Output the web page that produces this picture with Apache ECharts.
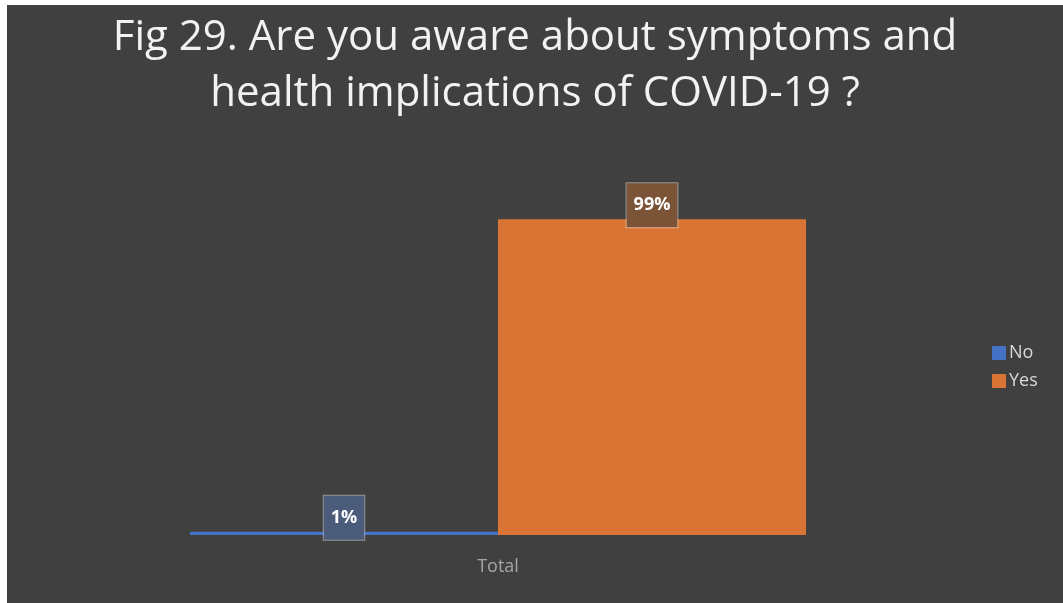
<!DOCTYPE html>
<html>
<head>
<meta charset="utf-8">
<script src="https://cdn.jsdelivr.net/npm/echarts@6/dist/echarts.min.js"></script>
<style>
html,body{margin:0;padding:0;background:#ffffff;width:1063px;height:603px;overflow:hidden;}
#chart{position:absolute;left:7px;top:5px;width:1056px;height:598px;}
</style>
</head>
<body>
<div id="chart"></div>
<script>
var titleText = "Fig 29. Are you aware about symptoms and\nhealth implications of COVID-19 ?";
var categories = ["Total"];
var seriesNames = ["No", "Yes"];
var noValues = [1];
var yesValues = [99];

var colors = ["#4472C4", "#D97434"];
var labelBg = ["#4B5B7A", "#7B5438"];

function makeSeries(name, data, idx) {
  return {
    name: name,
    type: "bar",
    data: data,
    barGap: "0%",
    barCategoryGap: "0%",
    itemStyle: { color: colors[idx] },
    label: {
      show: true,
      position: "top",
      distance: -8,
      formatter: "{c}%",
      color: "#ffffff",
      fontWeight: "bold",
      fontSize: 18,
      fontFamily: "Open Sans",
      lineHeight: 20,
      backgroundColor: labelBg[idx],
      borderColor: "rgba(255,255,255,0.45)",
      borderWidth: 1,
      padding: [12, 7, 12, 7]
    }
  };
}

var chart = echarts.init(document.getElementById("chart"));
chart.setOption({
  backgroundColor: "#404040",
  animation: false,
  title: {
    text: titleText,
    left: "center",
    top: 0,
    textStyle: {
      color: "#f2f2f2",
      fontSize: 42,
      fontWeight: "normal",
      fontFamily: "Open Sans",
      lineHeight: 56
    }
  },
  legend: {
    orient: "vertical",
    left: 980,
    top: 334,
    itemWidth: 14,
    itemHeight: 14,
    itemGap: 10,
    icon: "rect",
    data: seriesNames,
    textStyle: { color: "#d9d9d9", fontSize: 18, fontFamily: "Open Sans", padding: [0, 0, 0, -2] }
  },
  grid: { left: 183, right: 257, top: 211, bottom: 68, containLabel: false },
  xAxis: {
    type: "category",
    data: categories,
    axisLine: { show: false },
    axisTick: { show: false },
    axisLabel: { color: "#a6a6a6", fontSize: 18, fontFamily: "Open Sans", margin: 23 }
  },
  yAxis: {
    type: "value",
    min: 0,
    max: 100,
    show: false,
    splitLine: { show: false }
  },
  series: [
    makeSeries(seriesNames[0], noValues, 0),
    makeSeries(seriesNames[1], yesValues, 1)
  ]
});
</script>
</body>
</html>
